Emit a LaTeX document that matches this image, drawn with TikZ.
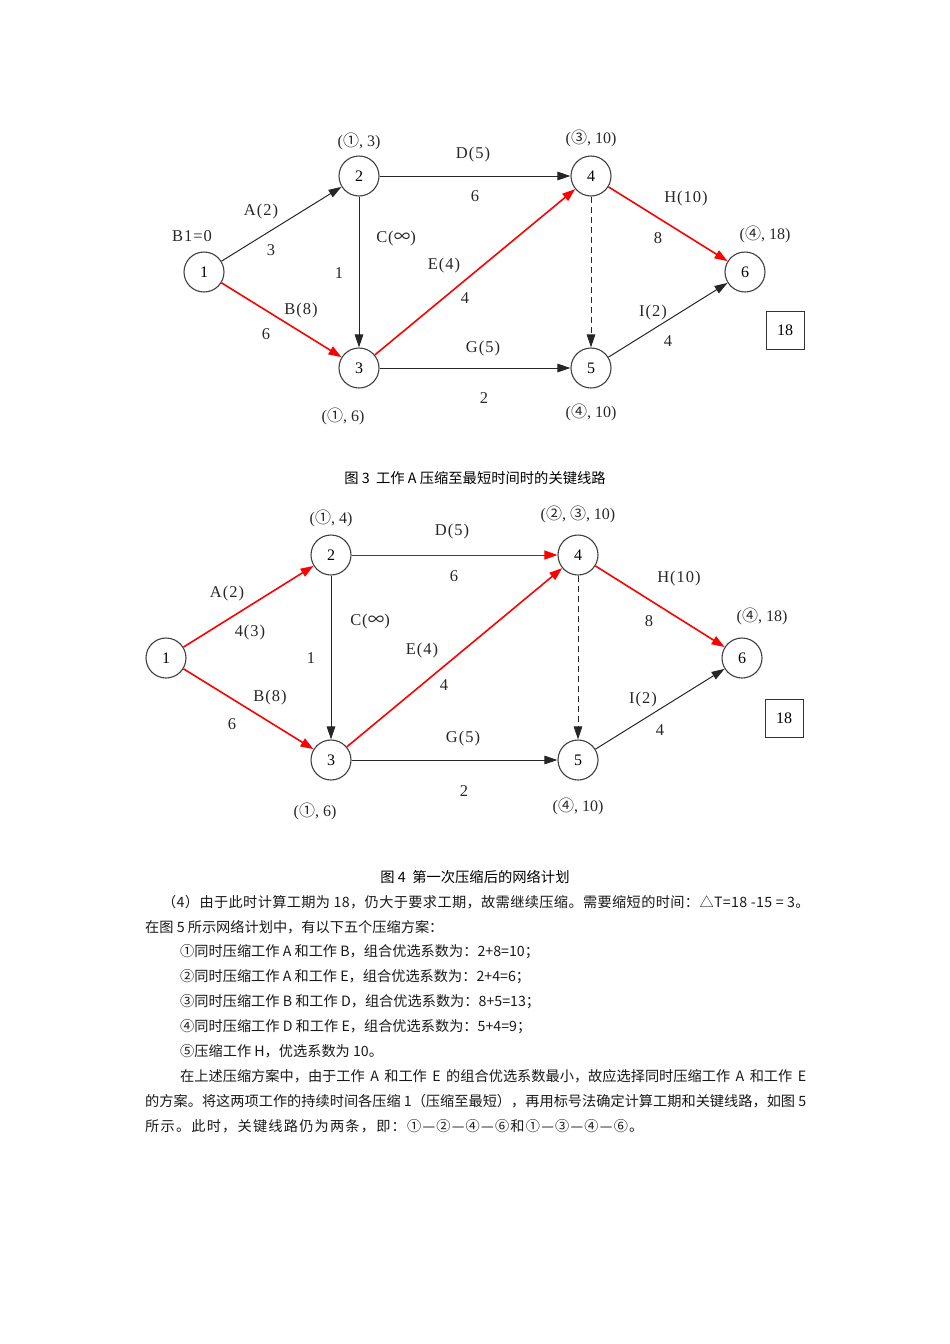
\documentclass[tikz,border=0pt]{standalone}
\usepackage{fontspec}
\setmainfont{Liberation Serif}
\newfontfamily\cjk{Noto Sans CJK SC}
\newfontfamily\lblfont[LetterSpace=6]{Liberation Serif}
\usetikzlibrary{arrows.meta}
\newcommand{\cn}[1]{{\cjk #1}}
\begin{document}
\begin{tikzpicture}[x=1pt,y=-1pt,
  vtx/.style={circle,draw=black!75,line width=1.1pt,minimum size=40pt,inner sep=0pt,fill=white,font=\fontsize{16}{16}\selectfont},
  lbl/.style={font=\lblfont\fontsize{16.5}{16.5}\selectfont,inner sep=0pt,text=black!85},
  plbl/.style={font=\fontsize{16}{16}\selectfont,inner sep=0pt,text=black!85},
  box18/.style={draw=black!80,line width=1pt,minimum size=38pt,inner sep=0pt,font=\fontsize{16}{16}\selectfont},
  arr/.style={line width=1pt,draw=black!85,-{Triangle[length=13pt,width=8.5pt]}},
  crit/.style={line width=1.6pt,draw=red,-{Triangle[length=13pt,width=9pt,fill=red]}},
  thincrit/.style={line width=1pt,draw=red!85!black,-{Triangle[length=13pt,width=9pt,color=red,fill=red]}},
  dummy/.style={line width=1pt,draw=black!85,dash pattern=on 6pt off 4pt,-{Triangle[length=13pt,width=8.5pt]}},
  capt/.style={font=\cjk\fontsize{14.3}{14.3}\selectfont,inner sep=0pt},
  txt/.style={font=\cjk\fontsize{14.2}{14.2}\selectfont,inner sep=0pt,anchor=west,text=black!90}
]
\useasboundingbox (0,0) rectangle (950,1344);

% ---------------- Figure 3 ----------------
\node[vtx] (a1) at (204,272) {1};
\node[vtx] (a2) at (359,176) {2};
\node[vtx] (a3) at (359,368) {3};
\node[vtx] (a4) at (591,176) {4};
\node[vtx] (a5) at (591,368) {5};
\node[vtx] (a6) at (745,272) {6};
\node[box18] (b18a) at (785,330) {18};

\draw[arr] (a1) -- (a2);
\draw[crit] (a1) -- (a3);
\draw[arr] (a2) -- (a3);
\draw[arr] (a2) -- (a4);
\draw[crit] (a3) -- (a4);
\draw[arr] (a3) -- (a5);
\draw[dummy] (a4) -- (a5);
\draw[crit] (a4) -- (a6);
\draw[arr] (a5) -- (a6);

\node[plbl] (la2) at (359,141) {(\cn{①}, 3)};
\node[plbl] (la4) at (591,138) {(\cn{③}, 10)};
\node[plbl] (la6) at (765,234) {(\cn{④}, 18)};
\node[plbl] (la3) at (343,416) {(\cn{①}, 6)};
\node[plbl] (la5) at (591,412) {(\cn{④}, 10)};
\node[lbl] (lb1) at (192,236) {B1=0};
\node[lbl] (eA) at (261,212) {A(2)};
\node[lbl] (dA) at (271,250) {3};
\node[lbl] (eB) at (301,311) {B(8)};
\node[lbl] (dB) at (266,334) {6};
\node[lbl] (eC) at (396,239) {C(\cn{∞})};
\node[lbl] (dC) at (339,273) {1};
\node[lbl] (eD) at (473,155) {D(5)};
\node[lbl] (dD) at (475,196) {6};
\node[lbl] (eE) at (444,266) {E(4)};
\node[lbl] (dE) at (465,298) {4};
\node[lbl] (eG) at (483,349) {G(5)};
\node[lbl] (dG) at (484,398) {2};
\node[lbl] (eH) at (686,199) {H(10)};
\node[lbl] (dH) at (658,238) {8};
\node[lbl] (eI) at (653,313) {I(2)};
\node[lbl] (dI) at (668,341) {4};

\node[capt] (cap3) at (475,478) {图 3\ \ 工作 A 压缩至最短时间时的关键线路};

% ---------------- Figure 4 ----------------
\node[vtx] (c1) at (166,658) {1};
\node[vtx] (c2) at (331,555) {2};
\node[vtx] (c3) at (331,760) {3};
\node[vtx] (c4) at (578,555) {4};
\node[vtx] (c5) at (578,760) {5};
\node[vtx] (c6) at (742,658) {6};
\node[box18] (b18b) at (784,718) {18};

\draw[crit] (c1) -- (c2);
\draw[crit] (c1) -- (c3);
\draw[arr] (c2) -- (c3);
\draw[thincrit] (c2) -- (c4);
\draw[crit] (c3) -- (c4);
\draw[arr] (c3) -- (c5);
\draw[dummy] (c4) -- (c5);
\draw[crit] (c4) -- (c6);
\draw[arr] (c5) -- (c6);

\node[plbl] (lc2) at (331,518) {(\cn{①}, 4)};
\node[plbl] (lc4) at (578,514) {(\cn{②}, \cn{③}, 10)};
\node[plbl] (lc6) at (762,616) {(\cn{④}, 18)};
\node[plbl] (lc3) at (315,811) {(\cn{①}, 6)};
\node[plbl] (lc5) at (578,806) {(\cn{④}, 10)};
\node[lbl] (fA) at (227,594) {A(2)};
\node[lbl] (gA) at (250,633) {4(3)};
\node[lbl] (fB) at (270,698) {B(8)};
\node[lbl] (gB) at (232,724) {6};
\node[lbl] (fC) at (370,622) {C(\cn{∞})};
\node[lbl] (gC) at (311,658) {1};
\node[lbl] (fD) at (452,532) {D(5)};
\node[lbl] (gD) at (454,576) {6};
\node[lbl] (fE) at (422,651) {E(4)};
\node[lbl] (gE) at (444,685) {4};
\node[lbl] (fG) at (463,739) {G(5)};
\node[lbl] (gG) at (464,791) {2};
\node[lbl] (fH) at (679,579) {H(10)};
\node[lbl] (gH) at (649,621) {8};
\node[lbl] (fI) at (643,700) {I(2)};
\node[lbl] (gI) at (660,730) {4};

\node[capt] (cap4) at (475,877) {图 4\ \ 第一次压缩后的网络计划};

% ---------------- Body text ----------------
\node[txt] (t1) at (162,902) {\addfontfeature{LetterSpace=2.5}（4）由于此时计算工期为 18，仍大于要求工期，故需继续压缩。需要缩短的时间：△T=18 -15 = 3。};
\node[txt] (t2) at (145,927) {在图 5 所示网络计划中，有以下五个压缩方案：};
\node[txt] (t3) at (180,952) {①同时压缩工作 A 和工作 B，组合优选系数为：2+8=10；};
\node[txt] (t4) at (180,977) {②同时压缩工作 A 和工作 E，组合优选系数为：2+4=6；};
\node[txt] (t5) at (180,1002) {③同时压缩工作 B 和工作 D，组合优选系数为：8+5=13；};
\node[txt] (t6) at (180,1027) {④同时压缩工作 D 和工作 E，组合优选系数为：5+4=9；};
\node[txt] (t7) at (180,1051) {⑤压缩工作 H，优选系数为 10。};
\node[txt] (t8) at (180,1076) {\makebox[626pt][s]{在上述压缩方案中，由于工作 A 和工作 E 的组合优选系数最小，故应选择同时压缩工作 A 和工作 E}};
\node[txt] (t9) at (145,1101) {\makebox[661pt][s]{的方案。将这两项工作的持续时间各压缩 1（压缩至最短），再用标号法确定计算工期和关键线路，如图 5}};
\node[txt] (t10) at (145,1126) {\addfontfeature{LetterSpace=8.5}所示。此时，关键线路仍为两条，即：①—②—④—⑥和①—③—④—⑥。};
\end{tikzpicture}
\end{document}
